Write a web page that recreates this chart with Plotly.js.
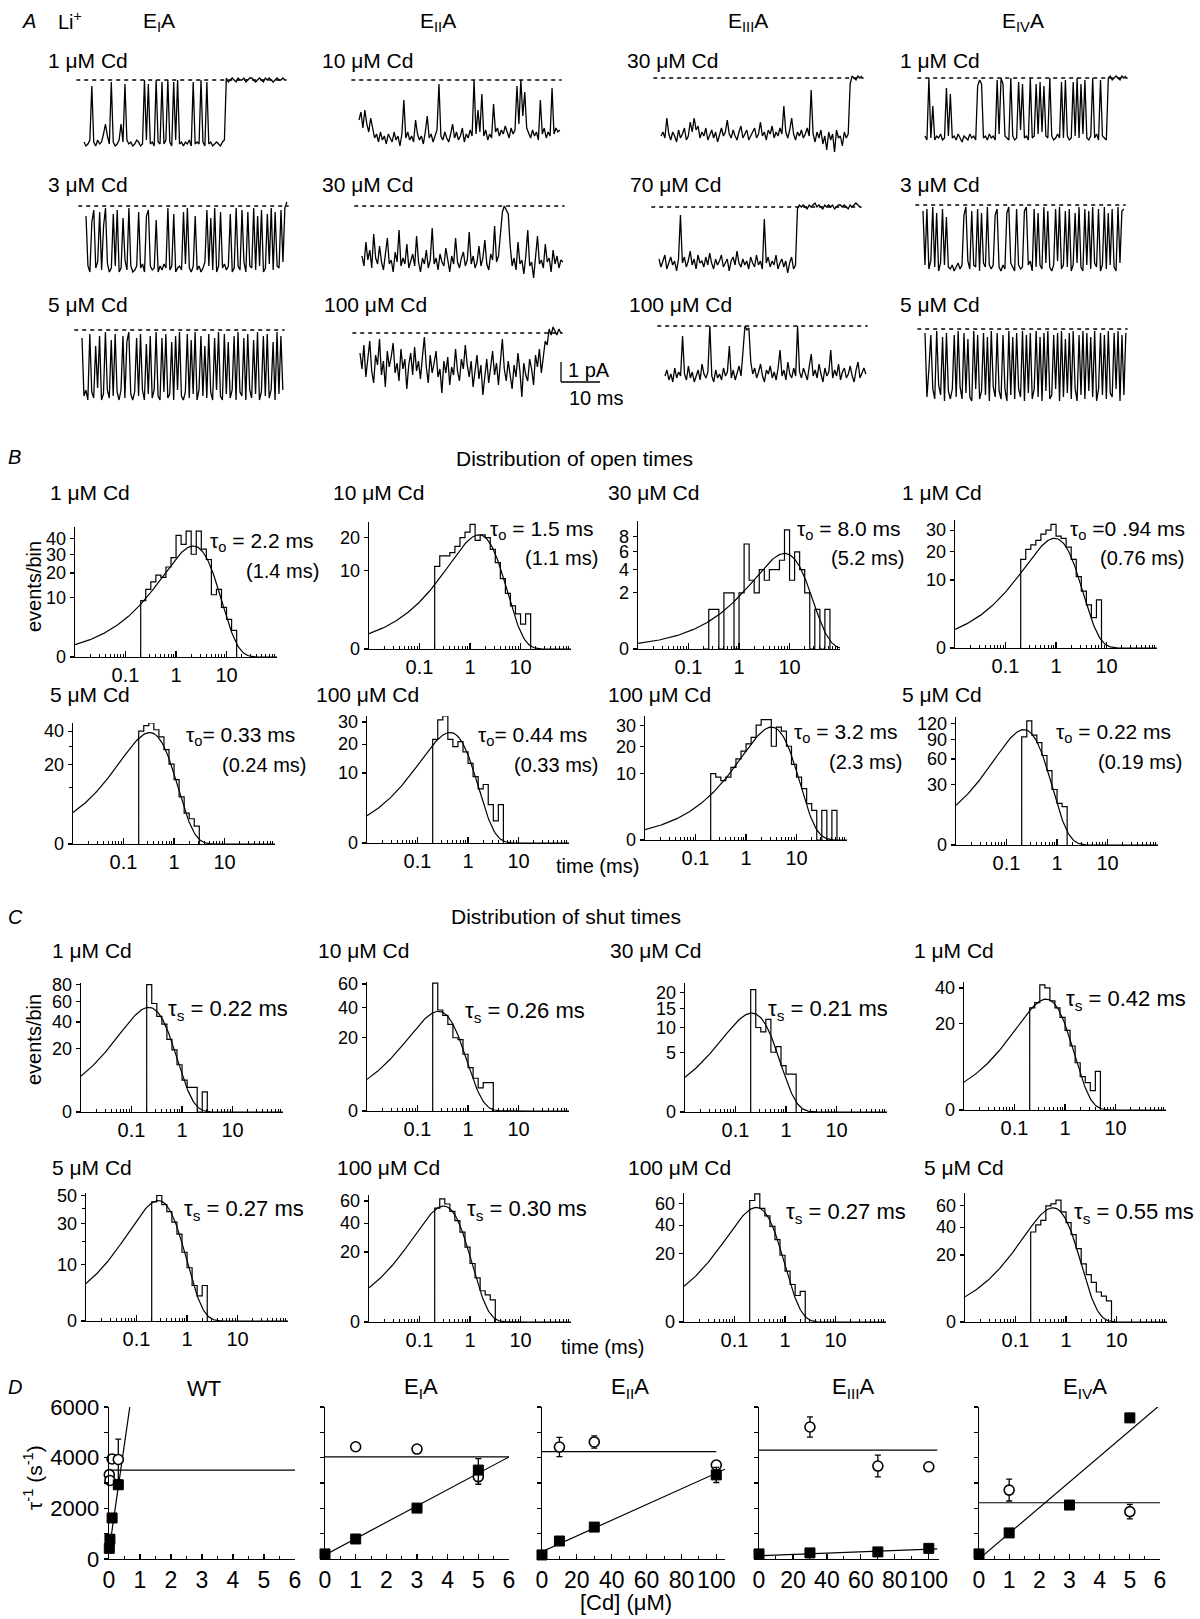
<!DOCTYPE html>
<html><head><meta charset="utf-8">
<script src="https://cdn.plot.ly/plotly-3.0.1.min.js"></script>
<style>body{margin:0;background:#fff}</style>
</head><body><div id="chart" style="width:1200px;height:1619px"></div>
<script>
// ================= DATA =================
// Panel A: single-channel current traces, tenths of pA relative to closed level, sampled every 0.5 ms
const traceDt = 0.5;
const traceLabels = ['1 μM Cd','10 μM Cd','30 μM Cd','1 μM Cd','3 μM Cd','30 μM Cd','70 μM Cd','3 μM Cd','5 μM Cd','100 μM Cd','100 μM Cd','5 μM Cd'];
const mutantNames = ['E<sub>I</sub>A','E<sub>II</sub>A','E<sub>III</sub>A','E<sub>IV</sub>A'];
const trEIA1 = [-31,-33,-32,-30,-3,-31,-33,-30,-32,-31,-27,-22,-28,-32,-1,-31,-33,-32,-30,-22,-31,-2,-30,-32,-31,-33,-32,-30,-31,-33,-32,0,-30,-2,-32,-31,-33,0,-31,-32,-1,-32,-30,0,-31,-33,-1,-30,0,-32,-31,-33,-31,-32,-30,-33,-1,-32,-31,-32,0,-31,-33,-1,-32,-31,-33,-32,-31,-32,-33,-31,-30,1,-1,0,1,0,-1,1,0,0,1,-1,0,1,1,0,-1,0,1,0,-1,1,0,1,0,-1,0,1,0,0,1,0];
const trEIIA10 = [-20,-16,-24,-15,-22,-26,-19,-25,-29,-27,-31,-26,-30,-28,-32,-27,-29,-31,-26,-30,-28,-33,-27,-10,-29,-26,-30,-28,-31,-20,-27,-30,-28,-32,-26,-18,-29,-27,-31,-28,-25,-2,-28,-30,-26,-29,-31,-27,-22,-29,-26,-30,-28,-24,-31,-27,-29,-25,-28,0,-27,-15,-26,-7,-28,-25,-30,-27,-29,-12,-26,-24,-28,-25,-27,-23,-26,-29,-24,-27,-25,-3,-22,0,-18,-6,-24,-27,-29,-25,-28,-26,-30,-10,-27,-24,-29,-26,-28,-4,-27,-24,-26,-25];
const trEIIIA30 = [-29,-27,-30,-20,-28,-31,-27,-29,-32,-26,-30,-28,-25,-31,-29,-22,-27,-20,-26,-24,-30,-27,-29,-25,-31,-28,-26,-30,-27,-32,-28,-25,-29,-27,-21,-28,-30,-26,-29,-31,-27,-24,-30,-28,-26,-31,-29,-27,-25,-30,-28,-22,-29,-27,-31,-26,-28,-24,-30,-27,-29,-25,-28,-14,-27,-30,-26,-20,-28,-31,-27,-29,-26,-30,-28,-25,-29,-6,-28,-32,-27,-30,-26,-33,-29,-36,-27,-31,-28,-37,-26,-30,-29,-34,-27,-30,-28,-3,1,0,-1,1,0,1];
const trEIVA1 = [-29,-31,0,-30,-14,-31,-29,-30,-28,-31,-30,-5,-29,-8,-30,-29,-31,-28,-30,-32,-29,-30,-31,-28,-30,-29,-31,-4,-1,-3,-30,-29,-31,-28,-30,-29,-31,-1,-28,0,-3,-29,-30,-31,0,-29,-31,-30,-2,-26,-3,-30,-29,-31,0,-30,-29,-3,-28,-2,-27,-4,-29,-30,0,-29,-31,-30,-28,-30,-2,-30,-1,-29,-31,-30,-2,-29,0,-30,-3,-28,-1,-30,-31,-29,0,-30,-28,-31,-1,-29,-30,-31,0,1,-1,0,1,0,-1,1,0,1];
const trEIA3 = [-5,-30,-33,-8,-2,-31,-28,-3,-32,-10,-1,-29,-33,-31,-4,-30,-2,-33,-31,-6,-27,-32,-1,-30,-33,-32,-30,-3,-31,-29,-33,-5,-2,-30,-32,-31,-7,-33,-30,-32,-29,-31,-1,-32,-30,-4,-33,-31,-30,-32,-3,-29,-1,-31,-33,-30,-5,-32,-30,-33,-31,-28,-2,-30,-6,-32,-1,-33,-30,-3,-31,-29,-32,-30,-4,-33,-31,-1,-30,-32,-2,-28,-33,-3,-30,-31,-1,-32,-5,-30,-2,-33,-31,-4,-29,-1,-32,-3,-30,-31,-2,-28,-1,2];
const trEIIA30 = [-25,-30,-18,-27,-22,-31,-14,-26,-29,-20,-28,-32,-24,-16,-29,-27,-33,-23,-28,-12,-30,-26,-29,-19,-31,-27,-24,-30,-15,-28,-33,-26,-29,-22,-31,-27,-11,-29,-26,-32,-24,-28,-30,-21,-27,-33,-25,-29,-16,-28,-31,-26,-23,-30,-27,-13,-29,-25,-31,-28,-20,-30,-26,-17,-29,-32,-24,-27,-10,-28,-25,-14,-3,0,-2,-4,-20,-30,-26,-32,-18,-29,-27,-34,-25,-12,-30,-28,-36,-24,-15,-29,-27,-31,-19,-28,-26,-33,-22,-29,-25,-31,-27,-28];
const trEIIIA70 = [-26,-30,-27,-24,-31,-28,-25,-29,-27,-32,-26,-4,-28,-25,-30,-27,-22,-29,-26,-31,-24,-28,-27,-30,-25,-29,-23,-28,-31,-26,-29,-27,-24,-30,-28,-26,-32,-27,-25,-29,-22,-28,-30,-26,-29,-27,-31,-25,-28,-30,-24,-29,-27,-31,-6,-28,-25,-30,-27,-29,-24,-31,-28,-26,-30,-27,-33,-28,-25,-31,-29,-1,1,0,1,0,-1,1,0,1,2,0,1,0,-1,1,0,1,0,1,-1,0,1,1,0,1,0,-1,1,0,1,2,1,0];
const trEIVA3 = [-3,-30,-2,-32,-28,-1,-31,-4,-33,-29,-2,-30,-6,-31,-32,-30,-33,-31,-29,-32,-30,-5,-1,-28,-32,-3,-30,-31,-2,-33,-4,-29,-31,-1,-30,-32,-30,-5,-2,-31,-33,-30,-32,-4,-1,-29,-31,-33,-2,-30,-32,-31,-3,-1,-30,-28,-33,-2,-31,-4,-30,-32,-1,-29,-3,-31,-33,-30,-2,-28,-1,-32,-30,-3,-31,-2,-33,-30,-4,-29,-1,-31,-33,-2,-30,-3,-32,-1,-29,-31,-2,-33,-30,-1,-32,-4,-30,-2,-31,-33,-1,-29,-3,-2];
const trEIA5 = [-4,-33,-30,-35,-2,-31,-34,-8,-29,-3,-35,-32,-1,-30,-34,-5,-33,-2,-31,-35,-30,-3,-34,-6,-1,-32,-35,-31,-4,-33,-2,-30,-35,-7,-32,-3,-34,-30,-1,-33,-35,-4,-31,-2,-34,-32,-6,-35,-3,-30,-1,-33,-35,-31,-2,-34,-5,-32,-1,-35,-30,-3,-33,-8,-34,-2,-31,-35,-4,-30,-1,-33,-35,-2,-32,-6,-34,-30,-3,-35,-1,-31,-33,-4,-35,-2,-30,-34,-5,-32,-1,-35,-31,-3,-33,-2,-34,-30,-6,-35,-1,-32,-3,-30];
const trEIIA100 = [-10,-18,-6,-22,-13,-4,-19,-25,-11,-16,-3,-21,-14,-27,-9,-17,-12,-5,-20,-15,-24,-8,-18,-13,-28,-16,-10,-21,-7,-19,-14,-23,-12,-2,-17,-25,-11,-20,-15,-9,-22,-18,-30,-14,-20,-12,-26,-17,-21,-8,-19,-24,-13,-18,-6,-16,-22,-14,-27,-19,-11,-23,-16,-31,-20,-13,-25,-17,-9,-21,-15,-26,-12,-3,-18,-24,-14,-20,-28,-16,-22,-10,-19,-32,-15,-21,-24,-13,-18,-26,-11,-17,-8,-20,-12,-4,-6,2,-1,3,1,-1,2,0];
const trEIIIA100 = [-25,-22,-27,-24,-28,-21,-26,-23,-25,-5,-24,-27,-20,-26,-23,-28,-25,-22,-27,-19,-24,-26,-23,0,-25,-28,-22,-26,-24,-27,-21,-25,-23,-10,-26,-22,-27,-24,-20,-25,-12,0,-2,-1,-18,-24,-21,-26,-23,-19,-25,-28,-22,-24,-20,-26,-23,-27,-21,-12,-25,-22,-27,-18,-24,-26,-21,-25,0,-23,-26,-21,-24,-27,-20,-14,-25,-22,-26,-19,-24,-28,-21,-25,-23,-12,-26,-22,-25,-19,-27,-23,-21,-26,-24,-20,-25,-28,-22,-18,-26,-23,-21,-24];
const trEIVA5 = [-2,-34,-20,-3,-30,-35,-1,-28,-33,-4,-36,-2,-31,-35,-30,-3,-34,-1,-29,-35,-2,-32,-5,-34,-36,-1,-30,-3,-35,-31,-2,-33,-4,-36,-1,-29,-34,-2,-31,-35,-3,-30,-36,-1,-33,-4,-35,-2,-30,-34,-1,-36,-3,-32,-2,-35,-30,-1,-34,-4,-36,-2,-31,-1,-35,-33,-3,-30,-2,-36,-1,-34,-5,-32,-2,-35,-1,-30,-36,-3,-33,-1,-35,-2,-31,-4,-34,-1,-36,-30,-2,-33,-3,-35,-1,-32,-34,-2,-30,-1,-36,-3,-33,-2];
const allTraces = [trEIA1,trEIIA10,trEIIIA30,trEIVA1,trEIA3,trEIIA30,trEIIIA70,trEIVA3,trEIA5,trEIIA100,trEIIIA100,trEIVA5];

// Panels B, C: log-binned dwell-time histograms (events per bin), bins from 0.2 ms, 10 per decade
const histEdge0 = 0.2, binsPerDecade = 10;
const histLabels = ['1 μM Cd','10 μM Cd','30 μM Cd','1 μM Cd','5 μM Cd','100 μM Cd','100 μM Cd','5 μM Cd'];
const openHist = [
  [9,13,16,19,18,23,28,42,36,45,30,45,33,27,11,13,7,4,2],
  [11,14,14,15,17,20,22,25,19,21,20,16,12,8,5,3,2,1,2],
  [0,1,1,0,2,2,0,2,7,3,2,4,3,4,4,5,9,3,6,4,2,0,1,0,1],
  [17,21,23,25,28,30,33,27,26,22,17,11,7,4,2,5],
  [40,44,46,41,36,28,20,13,7,3,2,1],
  [22,31,33,22,19,21,17,13,9,6,7,3,1,3],
  [10,9,8,9,12,15,18,21,24,30,33,33,20,29,27,20,13,9,6,3,2,0,2,0,2],
  [95,125,98,85,65,45,25,14,12]
];
const openTau = [2.2,1.5,8.0,0.94,0.33,0.44,3.2,0.22];
const openPeak = [35,21,5.8,26,39,25,29,108];
const openTauText = ['τ<sub>o</sub> = 2.2 ms','τ<sub>o</sub> = 1.5 ms','τ<sub>o</sub> = 8.0 ms','τ<sub>o</sub> =0 .94 ms','τ<sub>o</sub>= 0.33 ms','τ<sub>o</sub>= 0.44 ms','τ<sub>o</sub> = 3.2 ms','τ<sub>o</sub> = 0.22 ms'];
const openTauCorrText = ['(1.4 ms)','(1.1 ms)','(5.2 ms)','(0.76 ms)','(0.24 ms)','(0.33 ms)','(2.3 ms)','(0.19 ms)'];
const openTop = [48,26,10.4,35.4,46,33,35,133];
const openTicks = [[0,10,20,30,40],[0,10,20],[0,2,4,6,8],[0,10,20,30],[0,20,40],[0,10,20,30],[0,10,20,30],[0,30,60,90,120]];
const openMinorTicks = [[],[],[],[],[10,30],[],[],[]];

const shutHist = [
  [80,58,45,38,26,19,11,5,3,3,0,2],
  [61,38,34,28,20,19,12,7,4,2,3,3],
  [21,10,9,12,5,6,3,2,2],
  [28,31,42,40,32,28,23,17,11,6,3,2,1,4],
  [45,50,43,38,31,24,15,9,4,2,4],
  [53,62,57,50,42,33,23,14,8,4,3,2],
  [63,70,55,48,39,29,19,11,6,3,4],
  [36,42,46,60,62,66,54,44,34,24,15,10,7,4,3,2]
];
const shutTau = [0.22,0.26,0.21,0.42,0.27,0.30,0.27,0.55];
const shutPeak = [54,37,13.7,33,46,55,56,58];
const shutTauText = ['τ<sub>s</sub> = 0.22 ms','τ<sub>s</sub> = 0.26 ms','τ<sub>s</sub> = 0.21 ms','τ<sub>s</sub> = 0.42 ms','τ<sub>s</sub> = 0.27 ms','τ<sub>s</sub> = 0.30 ms','τ<sub>s</sub> = 0.27 ms','τ<sub>s</sub> = 0.55 ms'];
const shutTop = [82,62,23.3,44,52,66,71,74];
const shutTicks = [[0,20,40,60,80],[0,20,40,60],[0,5,10,15,20],[0,20,40],[0,10,30,50],[0,20,40,60],[0,20,40,60],[0,20,40,60]];
const shutMinorTicks = [[],[],[],[],[20,40],[],[],[]];

// Panel D: rates (s^-1) vs [Cd] (μM); filled squares = blocking rate, open circles = unblocking rate
const dTitles = ['WT','E<sub>I</sub>A','E<sub>II</sub>A','E<sub>III</sub>A','E<sub>IV</sub>A'];
const dBlockConc = [[0.01,0.03,0.1,0.3],[0,1,3,5],[0,10,30,100],[0,30,70,100],[0,1,3,5]];
const dBlockRate = [[420,780,1620,2930],[200,790,2010,3510],[160,710,1260,3320],[200,240,280,420],[200,1030,2130,5570]];
const dBlockErr  = [[0,0,0,0],[0,0,0,450],[0,0,0,300],[0,120,120,0],[0,120,0,150]];
const dUnblockConc = [[0.01,0.03,0.1,0.3],[1,3,5],[10,30,100],[30,70,100],[1,5]];
const dUnblockRate = [[3330,3100,3950,3930],[4430,4340,3250],[4420,4620,3710],[5210,3670,3640],[2720,1870]];
const dUnblockErr  = [[0,0,0,800],[0,0,300],[380,240,150],[400,430,120],[430,290]];
const dKoff = [3510,4030,4240,4300,2220];          // horizontal fitted unblocking rate
const dKoffEnd = [6,6,100,105,6];
const dKonIntercept = [300,160,290,130,0];        // fitted blocking-rate line
const dKonSlope = [8500,645,31,2.6,1013];
const dKonEnd = [0.67,6,105,105,6];
const dXMax = [6,6,105,106,6];
const dXTicks = [[0,1,2,3,4,5,6],[0,1,2,3,4,5,6],[0,20,40,60,80,100],[0,20,40,60,80,100],[0,1,2,3,4,5,6]];
const dXMinor = [0.5,0.5,10,10,0.5];
const dYTicks = [0,2000,4000,6000];

// ================= LAYOUT HELPERS =================
const W = 1200, H = 1619;
const FONT = 'Liberation Sans, Arial, Helvetica, sans-serif';
const data = [];
const layout = {width:W, height:H, margin:{l:0,r:0,t:0,b:0}, showlegend:false,
  paper_bgcolor:'#fff', plot_bgcolor:'rgba(0,0,0,0)', font:{family:FONT, size:20, color:'#000'},
  annotations:[], shapes:[]};
let nAx = 0;
function axes(xDom, yDom, xo, yo){
  nAx++; const s = nAx===1 ? '' : String(nAx);
  layout['xaxis'+s] = Object.assign({domain:[xDom[0]/W, xDom[1]/W], anchor:'y'+s, fixedrange:true}, xo);
  layout['yaxis'+s] = Object.assign({domain:[1-yDom[1]/H, 1-yDom[0]/H], anchor:'x'+s, fixedrange:true}, yo);
  return {xaxis:'x'+s, yaxis:'y'+s};
}
function label(text, x, y, o){
  layout.annotations.push(Object.assign({text:text, x:x/W, y:1-y/H, xref:'paper', yref:'paper',
    xanchor:'left', yanchor:'middle', showarrow:false, font:{family:FONT, size:21, color:'#000'}}, o||{}));
}
function seg(x0,y0,x1,y1,w){
  layout.shapes.push({type:'line', xref:'paper', yref:'paper', x0:x0/W, y0:1-y0/H, x1:x1/W, y1:1-y1/H, line:{color:'#000', width:w||1.3}});
}

// ================= PANEL A =================
label('<i>A</i>', 20, 21, {font:{family:FONT,size:20}});
label('Li<sup>+</sup>', 56, 21, {font:{family:FONT,size:20}});
const headerX = [141, 418, 726, 1000];
mutantNames.forEach((m,i)=>label(m, headerX[i], 22, {font:{family:FONT,size:21}}));
const traceOrigin = [[84,80],[359,80],[661,78],[925,78],[86,206],[362,206],[659,207],[923,205],[82,330],[360,333],[665,326],[925,329]];
const traceLabelPos = [[46,60],[320,60],[625,60],[898,60],[46,184],[320,184],[628,184],[898,184],[46,304],[322,304],[627,304],[898,304]];
allTraces.forEach((vals,i)=>{
  const [x0,y0] = traceOrigin[i];
  const ax = axes([x0-7.8, x0+202.8],[y0-16, y0+84], {visible:false, range:[-2,52]}, {visible:false, range:[-4.2,0.8]});
  data.push(Object.assign({type:'scatter', mode:'lines', x:[-2,52], y:[0,0], hoverinfo:'skip',
    line:{color:'#000', width:1.4, dash:'4px,4px'}}, ax));
  data.push(Object.assign({type:'scatter', mode:'lines', x:vals.map((v,k)=>k*traceDt), y:vals.map(v=>v/10),
    line:{color:'#000', width:1.3}}, ax));
  label(traceLabels[i], traceLabelPos[i][0], traceLabelPos[i][1]);
});
// scale bar: 1 pA (20 px) and 10 ms (39 px)
seg(561,362,561,382); seg(561,382,600,382);
label('1 pA', 566, 370, {font:{family:FONT,size:20}});
label('10 ms', 567, 398, {font:{family:FONT,size:20}});

// ================= PANELS B, C =================
const minorVals = [0.01,100];
[0.01,0.1,1,10].forEach(d=>{for(let m=2;m<=9;m++) minorVals.push(d*m);});
function histXY(counts){
  const xs=[histEdge0], ys=[0];
  counts.forEach((c,i)=>{
    const a = histEdge0*Math.pow(10,i/binsPerDecade), b = histEdge0*Math.pow(10,(i+1)/binsPerDecade);
    xs.push(a,b); ys.push(Math.sqrt(c),Math.sqrt(c));
  });
  xs.push(xs[xs.length-1]); ys.push(0);
  return {xs, ys};
}
function fitXY(tau, peak){
  const xs=[], ys=[];
  for(let i=0;i<=200;i++){ const t=Math.pow(10,-2+i*0.02); xs.push(t); ys.push(Math.sqrt(peak*(t/tau)*Math.exp(1-t/tau))); }
  return {xs, ys};
}
function histPanel(box, counts, tau, peak, top, ticks, minorTicks){
  const [x0,yb,yt] = box;
  const ax = axes([x0, x0+202],[yt, yb],
    {type:'log', range:[-2,2], showline:true, linecolor:'#000', linewidth:1.3, showgrid:false, zeroline:false,
     ticks:'inside', ticklen:6, tickwidth:1.2, tickcolor:'#000', tickmode:'array', tickangle:0,
     tickvals:[0.1,1,10], ticktext:['0.1','1','10'], tickfont:{family:FONT,size:20},
     minor:{tickmode:'array', tickvals:minorVals, ticks:'inside', ticklen:3, tickwidth:1, tickcolor:'#000', showgrid:false}},
    {range:[0,Math.sqrt(top)], showline:true, linecolor:'#000', linewidth:1.3, showgrid:false, zeroline:false,
     ticks:'outside', ticklen:4, tickwidth:1.2, tickcolor:'#000', tickmode:'array', ticklabelstandoff:0,
     tickvals:ticks.map(Math.sqrt), ticktext:ticks.map(String), tickfont:{family:FONT,size:18},
     minor:{tickmode:'array', tickvals:minorTicks.map(Math.sqrt), ticks:'outside', ticklen:3, tickwidth:1, tickcolor:'#000', showgrid:false}});
  const f = fitXY(tau, peak);
  data.push(Object.assign({type:'scatter', mode:'lines', x:f.xs, y:f.ys, line:{color:'#000', width:1.2}}, ax));
  const h = histXY(counts);
  data.push(Object.assign({type:'scatter', mode:'lines', x:h.xs, y:h.ys, line:{color:'#000', width:1.2}}, ax));
}
// Panel B
label('<i>B</i>', 6, 457, {font:{family:FONT,size:20}});
label('Distribution of open times', 574, 458, {xanchor:'center', font:{family:FONT,size:21}});
const openBox = [[75,657,527],[369,649,522],[638,649,521],[955,648,520],[73,844,723],[367,843,716],[645,840,716],[956,845,717]];
const openLabelPos = [[48,492],[331,492],[606,492],[900,492],[48,694],[314,694],[606,694],[900,694]];
const openTauPos = [[208,542],[488,530],[795,530],[1068,530],[184,736],[476,736],[792,733],[1054,733]];
const openCorrPos = [[321,571],[600,558],[906,558],[1186,558],[308,765],[600,765],[904,762],[1184,762]];
openHist.forEach((c,i)=>{
  histPanel(openBox[i], c, openTau[i], openPeak[i], openTop[i], openTicks[i], openMinorTicks[i]);
  label(histLabels[i], openLabelPos[i][0], openLabelPos[i][1]);
  label(openTauText[i], openTauPos[i][0], openTauPos[i][1], {font:{family:FONT,size:21}});
  label(openTauCorrText[i], openCorrPos[i][0], openCorrPos[i][1], {xanchor:'right', font:{family:FONT,size:20}});
});
label('events/bin', 34, 587, {xanchor:'center', textangle:-90, font:{family:FONT,size:20}});
label('time (ms)', 597, 866, {xanchor:'center', font:{family:FONT,size:20}});

// Panel C
label('<i>C</i>', 6, 917, {font:{family:FONT,size:20}});
label('Distribution of shut times', 566, 916, {xanchor:'center', font:{family:FONT,size:21}});
const shutBox = [[81,1112,983],[367,1111,982],[685,1112,983],[964,1110,982],[86,1321,1193],[369,1322,1195],[684,1322,1193],[965,1322,1193]];
const shutLabelPos = [[50,950],[316,950],[608,950],[912,950],[50,1167],[335,1167],[626,1167],[922,1167]];
const shutTauPos = [[166,1010],[463,1012],[766,1010],[1064,1000],[182,1210],[465,1210],[784,1213],[1072,1213]];
shutHist.forEach((c,i)=>{
  histPanel(shutBox[i], c, shutTau[i], shutPeak[i], shutTop[i], shutTicks[i], shutMinorTicks[i]);
  label(histLabels[i], shutLabelPos[i][0], shutLabelPos[i][1]);
  label(shutTauText[i], shutTauPos[i][0], shutTauPos[i][1], {font:{family:FONT,size:22}});
});
label('events/bin', 34, 1040, {xanchor:'center', textangle:-90, font:{family:FONT,size:20}});
label('time (ms)', 603, 1347, {xanchor:'center', font:{family:FONT,size:20}});

// ================= PANEL D =================
label('<i>D</i>', 6, 1387, {font:{family:FONT,size:20}});
const dBox = [[109,295],[325,509],[542,725],[759,939],[979,1160]];
const dTitleX = [204,421,630,853,1085];
dTitles.forEach((t,i)=>{
  const [x0,x1] = dBox[i];
  const ax = axes([x0,x1],[1407,1559],
    {range:[0,dXMax[i]], showline:true, linecolor:'#000', linewidth:1.3, showgrid:false, zeroline:false,
     ticks:'inside', ticklen:5, tickwidth:1.2, tickcolor:'#000', tickmode:'array', tickvals:dXTicks[i], tickangle:0,
     minor:{dtick:dXMinor[i], ticks:'inside', ticklen:3, tickwidth:1, tickcolor:'#000', showgrid:false},
     tickfont:{family:FONT,size:23}},
    {range:[0,6000], showline:true, linecolor:'#000', linewidth:1.3, showgrid:false, zeroline:false,
     ticks:'outside', ticklen:4, tickwidth:1.1, tickcolor:'#000', tickmode:'array',
     tickvals:dYTicks, minor:{dtick:1000, ticks:'outside', ticklen:4, tickwidth:1.1, tickcolor:'#000', showgrid:false},
     showticklabels:i===0, tickfont:{family:FONT,size:22}});
  data.push(Object.assign({type:'scatter', mode:'lines', x:[0,dKoffEnd[i]], y:[dKoff[i],dKoff[i]], line:{color:'#000',width:1.2}}, ax));
  data.push(Object.assign({type:'scatter', mode:'lines', x:[0,dKonEnd[i]], y:[dKonIntercept[i], dKonIntercept[i]+dKonSlope[i]*dKonEnd[i]], line:{color:'#000',width:1.2}}, ax));
  data.push(Object.assign({type:'scatter', mode:'markers', x:dUnblockConc[i], y:dUnblockRate[i], cliponaxis:false,
    error_y:{type:'data', array:dUnblockErr[i], visible:true, color:'#000', thickness:1.3, width:3},
    marker:{symbol:'circle', size:10, color:'#fff', line:{color:'#000', width:1.6}}}, ax));
  data.push(Object.assign({type:'scatter', mode:'markers', x:dBlockConc[i], y:dBlockRate[i], cliponaxis:false,
    error_y:{type:'data', array:dBlockErr[i], visible:true, color:'#000', thickness:1.3, width:3},
    marker:{symbol:'square', size:10, color:'#000', line:{color:'#000', width:1}}}, ax));
  label(t, dTitleX[i], 1388, {xanchor:'center', font:{family:FONT,size:22}});
});
label('τ<sup>-1</sup> (s<sup>-1</sup>)', 33, 1478, {xanchor:'center', textangle:-90, font:{family:FONT,size:21}});
label('[Cd] (μM)', 626, 1602, {xanchor:'center', font:{family:FONT,size:22}});

Plotly.newPlot('chart', data, layout, {staticPlot:true});
</script></body></html>
